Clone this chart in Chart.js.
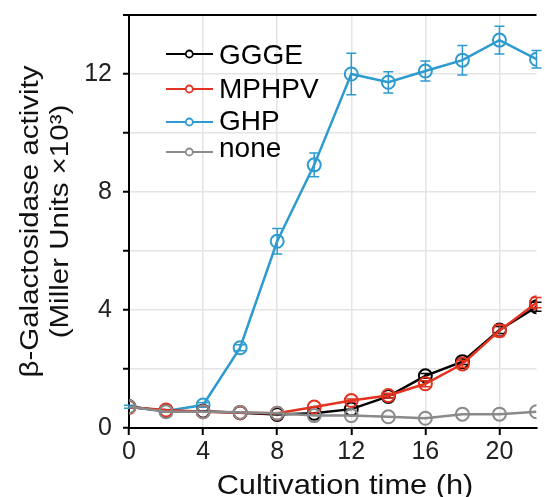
<!DOCTYPE html>
<html>
<head>
<meta charset="utf-8">
<script src="https://cdn.jsdelivr.net/npm/chart.js@4.4.1/dist/chart.umd.min.js"></script>
<style>
  html, body { margin: 0; padding: 0; background: #fff; }
  #chart { display: block; }
</style>
</head>
<body>
<canvas id="chart" width="545" height="497"></canvas>
<script>
// Cultivation time (h)
const times = [0, 2, 4, 6, 8, 10, 12, 14, 16, 18, 20, 22];

// beta-galactosidase activity, Miller Units x10^3
const gggeValues  = [0.72, 0.58, 0.57, 0.52, 0.46, 0.50, 0.64, 1.07, 1.77, 2.25, 3.32, 4.11];
const mphpvValues = [0.70, 0.61, 0.55, 0.52, 0.50, 0.71, 0.93, 1.10, 1.50, 2.17, 3.30, 4.25];
const ghpValues   = [0.72, 0.58, 0.78, 2.72, 6.33, 8.92, 12.00, 11.72, 12.10, 12.47, 13.15, 12.50];
const noneValues  = [0.72, 0.55, 0.55, 0.53, 0.50, 0.42, 0.42, 0.38, 0.33, 0.47, 0.47, 0.55];

// error bars (+/-)
const gggeErrors  = [0, 0, 0, 0, 0, 0, 0, 0.05, 0.08, 0.10, 0.12, 0.15];
const mphpvErrors = [0, 0, 0, 0, 0, 0, 0.05, 0.08, 0.10, 0.12, 0.20, 0.17];
const ghpErrors   = [0.05, 0.05, 0.08, 0.10, 0.43, 0.40, 0.70, 0.36, 0.34, 0.50, 0.47, 0.30];
const noneErrors  = [0, 0, 0, 0, 0, 0, 0, 0, 0, 0, 0, 0];

// axes
const xTickValues = [0, 4, 8, 12, 16, 20];
const yGridValues = [0, 2, 4, 6, 8, 10, 12, 14];
const yTickLabels = [0, 4, 8, 12];

const FONT = "'Liberation Sans', Arial, sans-serif";

function points(values) {
    return times.map((t, i) => ({ x: t, y: values[i] }));
}

function series(label, values, errors, color, order) {
    return {
        label: label,
        data: points(values),
        errors: errors,
        order: order,
        borderColor: color,
        borderWidth: 2.5,
        pointRadius: 6.5,
        pointBorderWidth: 2,
        pointBorderColor: color,
        pointBackgroundColor: 'rgba(0,0,0,0)',
        showLine: true,
        tension: 0
    };
}

// error bars, drawn right after their own dataset
const errorBarPlugin = {
    id: 'errorBars',
    afterDatasetDraw(chart, args) {
        const ds = chart.data.datasets[args.index];
        if (!ds.errors) return;
        const ctx = chart.ctx;
        const xs = chart.scales.x, ys = chart.scales.y;
        ctx.save();
        ctx.strokeStyle = ds.borderColor;
        ctx.lineWidth = 1.5;
        ds.data.forEach((p, i) => {
            const e = ds.errors[i];
            if (!e) return;
            const px = xs.getPixelForValue(p.x);
            const top = ys.getPixelForValue(p.y + e);
            const bot = ys.getPixelForValue(p.y - e);
            ctx.beginPath();
            ctx.moveTo(px, top); ctx.lineTo(px, bot);
            ctx.moveTo(px - 5, top); ctx.lineTo(px + 5, top);
            ctx.moveTo(px - 5, bot); ctx.lineTo(px + 5, bot);
            ctx.stroke();
        });
        ctx.restore();
    }
};

// legend inside the plot, top left
const legendLineY = [54, 89, 122, 152];
const legendTextY = [64, 98, 130, 157];
const insideLegendPlugin = {
    id: 'insideLegend',
    afterDraw(chart) {
        const ctx = chart.ctx;
        ctx.save();
        chart.data.datasets.forEach((ds, i) => {
            const ly = legendLineY[i];
            ctx.strokeStyle = ds.borderColor;
            ctx.lineWidth = 2;
            ctx.beginPath();
            ctx.moveTo(166, ly);
            ctx.lineTo(185.5, ly);
            ctx.moveTo(193, ly);
            ctx.lineTo(213, ly);
            ctx.stroke();
            ctx.beginPath();
            ctx.lineWidth = 1.8;
            ctx.arc(189.3, ly, 3.5, 0, Math.PI * 2);
            ctx.stroke();
            ctx.fillStyle = '#000';
            ctx.font = '28px ' + FONT;
            ctx.textAlign = 'left';
            ctx.textBaseline = 'alphabetic';
            ctx.fillText(ds.label, 219, legendTextY[i]);
        });
        ctx.restore();
    }
};

// axis titles (slightly stretched, like the original figure)
function stretchedText(ctx, text, x, y, rot, sx) {
    ctx.save();
    ctx.translate(x, y);
    ctx.rotate(rot);
    ctx.scale(sx, 1);
    ctx.fillText(text, 0, 0);
    ctx.restore();
}

const axisTitlePlugin = {
    id: 'axisTitles',
    afterDraw(chart) {
        const ctx = chart.ctx;
        const area = chart.chartArea;
        const midY = (area.top + area.bottom) / 2;
        ctx.save();
        ctx.fillStyle = '#111';
        ctx.textAlign = 'center';
        ctx.textBaseline = 'alphabetic';
        ctx.font = '28px ' + FONT;
        stretchedText(ctx, 'Cultivation time (h)', 345, 494, 0, 1.1);
        ctx.font = '25px ' + FONT;
        stretchedText(ctx, '\u03B2-Galactosidase activity', 38, midY, -Math.PI / 2, 1.18);
        stretchedText(ctx, '(Miller Units \u00D710\u00B3)', 68, midY, -Math.PI / 2, 1.18);
        ctx.restore();
    }
};

const ctx = document.getElementById('chart');
new Chart(ctx, {
    type: 'scatter',
    data: {
        datasets: [
            series('GGGE', gggeValues, gggeErrors, '#000000', 2),
            series('MPHPV', mphpvValues, mphpvErrors, '#e3321f', 1),
            series('GHP', ghpValues, ghpErrors, '#2e9bd0', 3),
            series('none', noneValues, noneErrors, '#8a8a8a', 0)
        ]
    },
    options: {
        responsive: false,
        animation: false,
        devicePixelRatio: 1,
        layout: {
            padding: { top: 15, right: 0, bottom: 0, left: 0 }
        },
        plugins: {
            legend: { display: false },
            tooltip: { enabled: false },
            title: { display: false }
        },
        scales: {
            x: {
                type: 'linear',
                min: 0,
                max: 22,
                afterBuildTicks: s => { s.ticks = xTickValues.map(v => ({ value: v })); },
                afterFit: s => { s.height = 69; s.paddingLeft = 0; s.paddingRight = 0; },
                grid: {
                    color: '#e4e4e4',
                    lineWidth: 1.5,
                    tickColor: '#000',
                    tickWidth: 2,
                    tickLength: 7
                },
                border: { color: '#000', width: 2 },
                ticks: {
                    autoSkip: false,
                    maxRotation: 0,
                    padding: 5,
                    color: '#222',
                    font: { family: FONT, size: 25, lineHeight: 1 }
                }
            },
            y: {
                min: 0,
                max: 14,
                afterBuildTicks: s => { s.ticks = yGridValues.map(v => ({ value: v })); },
                afterFit: s => { s.width = 129; s.paddingTop = 0; s.paddingBottom = 0; },
                grid: {
                    color: c => (c.tick && c.tick.value === 14) ? '#000' : '#e4e4e4',
                    lineWidth: c => (c.tick && c.tick.value === 14) ? 2 : 1.5,
                    tickColor: '#000',
                    tickWidth: 2,
                    tickLength: 6
                },
                border: { color: '#000', width: 2 },
                ticks: {
                    autoSkip: false,
                    padding: 11,
                    color: '#222',
                    font: { family: FONT, size: 25, lineHeight: 1 },
                    callback: v => yTickLabels.includes(v) ? String(v) : ''
                }
            }
        }
    },
    plugins: [errorBarPlugin, insideLegendPlugin, axisTitlePlugin]
});
</script>
</body>
</html>
